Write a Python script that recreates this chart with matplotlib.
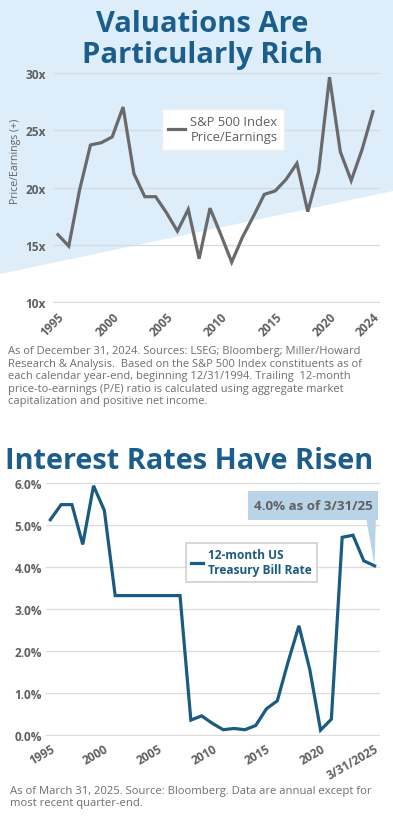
import matplotlib
matplotlib.use("Agg")
import matplotlib.pyplot as plt
from matplotlib import font_manager
from matplotlib.patches import Polygon, Rectangle

# P/E ratio of the S&P 500, year-end
pe_years = list(range(1995, 2025))
pe_values = [15.9, 14.9, 19.8, 23.7, 23.9, 24.4, 27.0, 21.2, 19.2, 19.2,
             17.8, 16.2, 18.1, 13.8, 18.2, 15.9, 13.5, 15.7, 17.5, 19.4,
             19.7, 20.7, 22.1, 17.9, 21.4, 29.6, 23.1, 20.6, 23.3, 26.6]
pe_ticks = [1995, 2000, 2005, 2010, 2015, 2020, 2024]
pe_yticks = [10, 15, 20, 25, 30]

# 12-month US T-bill rate, annual + 3/31/2025
rate_x = list(range(1995, 2026))
rate_values = [5.13, 5.49, 5.49, 4.54, 5.94, 5.35, 3.32, 3.32, 3.32, 3.32,
               3.32, 3.32, 3.32, 0.35, 0.45, 0.27, 0.12, 0.15, 0.12, 0.22,
               0.62, 0.81, 1.74, 2.60, 1.56, 0.11, 0.37, 4.71, 4.76, 4.15, 4.03]
rate_ticks = [1995, 2000, 2005, 2010, 2015, 2020, 2025]
rate_ticklabels = ["1995", "2000", "2005", "2010", "2015", "2020", "3/31/2025"]
rate_yticks = [0, 1, 2, 3, 4, 5, 6]

W, H = 393, 820
TITLE_BLUE = "#1b5e8b"
GRAY = "#5f6062"
NOTE_GRAY = "#6d6e70"
LINE_BLUE = "#1a5b82"
BG_BLUE = "#ddeefa"

names = {f.name for f in font_manager.fontManager.ttflist}
narrow = "Liberation Sans Narrow" if "Liberation Sans Narrow" in names else "Open Sans"
plt.rcParams["font.family"] = ["Open Sans", "DejaVu Sans"]


def fx(px):
    return px / W


def fy(py):
    return 1 - py / H


def fit_width(t, width_px):
    # shrink/grow a text until it is width_px wide
    r = fig.canvas.get_renderer()
    for _ in range(3):
        w = t.get_window_extent(r).width
        t.set_fontsize(t.get_fontsize() * width_px / w)


fig = plt.figure(figsize=(W / 100, H / 100), dpi=100)
fig.patch.set_facecolor("white")

# light blue background behind the top chart
bg = Polygon([(0, 1), (1, 1), (1, fy(192)), (0, fy(275))], closed=True,
             transform=fig.transFigure, facecolor=BG_BLUE, edgecolor="none", zorder=-5)
fig.add_artist(bg)

# ---- titles
t1 = fig.text(fx(202), fy(32), "Valuations Are", ha="center", va="baseline",
              color=TITLE_BLUE, fontsize=18, weight="bold")
t2 = fig.text(fx(202), fy(63), "Particularly Rich", ha="center", va="baseline",
              color=TITLE_BLUE, fontsize=18, weight="bold")
t3 = fig.text(fx(189), fy(469), "Interest Rates Have Risen", ha="center", va="baseline",
              color=TITLE_BLUE, fontsize=22, weight="bold", family=[narrow, "DejaVu Sans"])
fit_width(t1, 213)
fit_width(t2, 240)
fit_width(t3, 368)

# ---- top chart
ax1 = fig.add_axes([fx(53), fy(304), (380 - 53) / W, (304 - 73) / H])
ax1.patch.set_alpha(0)
ax1.plot(pe_years, pe_values, color="#6a6a6c", lw=2.3, solid_joinstyle="miter",
         label="S&P 500 Index\nPrice/Earnings", zorder=3)
ax1.set_xlim(1994.55, 2024.65)
ax1.set_ylim(9.95, 30.05)
ax1.set_yticks(pe_yticks)
ax1.set_yticklabels([f"{v}x" for v in pe_yticks])
ax1.set_xticks(pe_ticks)
ax1.set_xticklabels([str(v) for v in pe_ticks], rotation=45, ha="right",
                    rotation_mode="anchor")
ax1.grid(axis="y", color="#d3dbe2", lw=0.9)
ax1.set_axisbelow(True)
for s in ax1.spines.values():
    s.set_visible(False)
ax1.tick_params(length=0, labelsize=8.6, labelcolor=GRAY)
ax1.tick_params(axis="y", pad=5)
ax1.tick_params(axis="x", pad=5)
for lab in ax1.get_xticklabels() + ax1.get_yticklabels():
    lab.set_fontweight("bold")
fig.text(fx(16), fy(161), "Price/Earnings (+)", rotation=90, ha="center", va="center",
         fontsize=7.6, color=GRAY)

leg1 = ax1.legend(loc="upper left", bbox_to_anchor=(fx(155), fy(103)),
                  bbox_transform=fig.transFigure, fontsize=9.4, labelcolor=GRAY,
                  frameon=True, fancybox=False, facecolor="white", edgecolor="#eeeeee",
                  handlelength=1.3, handletextpad=0.4, borderpad=0.5)
leg1.get_frame().set_alpha(1)

notes1 = ["As of December 31, 2024. Sources: LSEG; Bloomberg; Miller/Howard",
          "Research & Analysis.  Based on the S&P 500 Index constituents as of",
          "each calendar year-end, beginning 12/31/1994. Trailing  12-month",
          "price-to-earnings (P/E) ratio is calculated using aggregate market",
          "capitalization and positive net income."]
for i, line in enumerate(notes1):
    fig.text(fx(8), fy(352 + i * 12.4), line, ha="left", va="center",
             fontsize=8.0, color=NOTE_GRAY)

# ---- bottom chart
ax2 = fig.add_axes([fx(46), fy(737), (380 - 46) / W, (737 - 483) / H])
ax2.patch.set_alpha(0)
ax2.plot(rate_x, rate_values, color=LINE_BLUE, lw=2.3, solid_joinstyle="miter",
         label="12-month US\nTreasury Bill Rate", zorder=3)
ax2.set_xlim(1994.6, 2025.5)
ax2.set_ylim(-0.03, 6.03)
ax2.set_yticks(rate_yticks)
ax2.set_yticklabels([f"{v:.1f}%" for v in rate_yticks])
ax2.set_xticks(rate_ticks)
ax2.set_xticklabels(rate_ticklabels, rotation=30, ha="right", rotation_mode="anchor")
ax2.grid(axis="y", color="#dcdcdc", lw=0.9)
ax2.set_axisbelow(True)
for s in ax2.spines.values():
    s.set_visible(False)
ax2.tick_params(length=0, labelsize=8.6, labelcolor=GRAY)
ax2.tick_params(axis="y", pad=3)
ax2.tick_params(axis="x", pad=4)
for lab in ax2.get_xticklabels() + ax2.get_yticklabels():
    lab.set_fontweight("bold")

leg2 = ax2.legend(loc="upper left", bbox_to_anchor=(fx(180), fy(538)),
                  bbox_transform=fig.transFigure, fontsize=8.6, labelcolor=LINE_BLUE,
                  frameon=True, fancybox=False, facecolor="white", edgecolor="#c9c9c9",
                  handlelength=1.0, handletextpad=0.4, borderpad=0.45)
leg2.get_frame().set_linewidth(1.3)
for t in leg2.get_texts():
    t.set_fontweight("bold")

# callout box for the latest value
box = Rectangle((fx(248), fy(521)), (378 - 248) / W, (521 - 492) / H,
                transform=fig.transFigure, facecolor="#b9d4e6", edgecolor="none", zorder=2)
fig.add_artist(box)
fig.text(fx(313), fy(507), "4.0% as of 3/31/25", ha="center", va="center",
         fontsize=9.6, weight="bold", color=GRAY, zorder=3)
ax2.annotate("", xy=(rate_x[-1], rate_values[-1]), xytext=(fx(371), fy(519)),
             textcoords="figure fraction",
             arrowprops=dict(arrowstyle="wedge,tail_width=0.7,shrink_factor=0.5",
                             fc="#b9d4e6", ec="none", shrinkA=0, shrinkB=0))

fig.text(fx(10), fy(792), "As of March 31, 2025. Source: Bloomberg. Data are annual except for",
         ha="left", va="center", fontsize=8.15, color=NOTE_GRAY)
fig.text(fx(10), fy(804), "most recent quarter-end.", ha="left", va="center",
         fontsize=8.15, color=NOTE_GRAY)

fig.savefig("out.png", dpi=100, facecolor="white")
